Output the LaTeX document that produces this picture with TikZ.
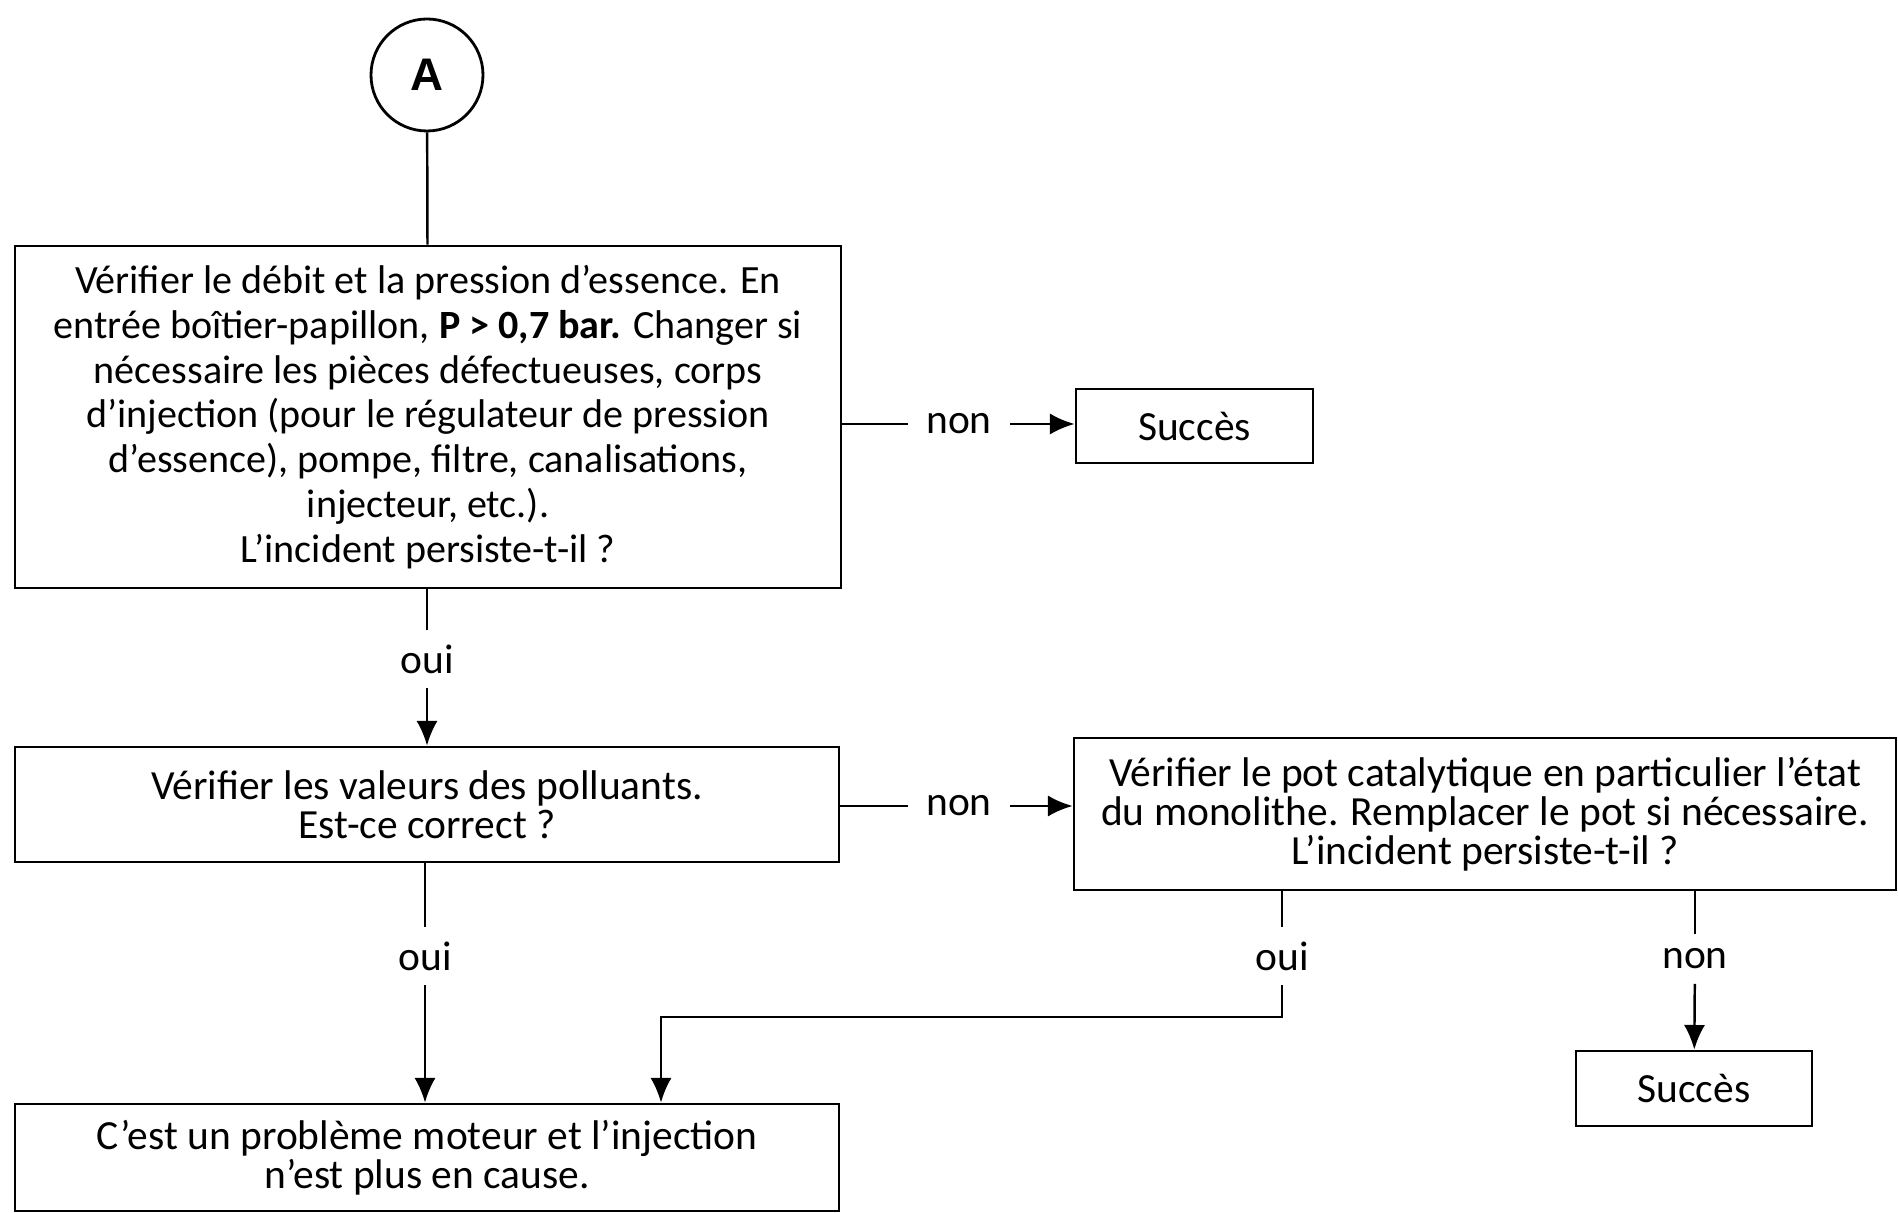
\documentclass[tikz,border=0pt]{standalone}
\usepackage{fontspec}
\setmainfont{Carlito}
\newfontfamily\circfont{Liberation Sans}
\usetikzlibrary{arrows.meta}

\begin{document}
\begin{tikzpicture}
    \tikzset{%
      box/.style={draw, line width=0.8pt, align=center, inner sep=0pt,
        font=\fontsize{11.8}{11.1}\selectfont},
      circ/.style={circle, draw, line width=0.8pt, minimum size=1.12cm,
        inner sep=0pt, font=\circfont\bfseries\fontsize{13}{13}\selectfont},
      lbl/.style={fill=white, inner xsep=5pt, inner ysep=4pt,
        font=\fontsize{11.8}{11.1}\selectfont},
      link/.style={line width=0.7pt},
      arr/.style={line width=0.7pt, -{Latex[length=7pt,width=6pt]}},
    }
    \useasboundingbox (0,0) rectangle (18.98,-12.13);

    \node[circ] (A) at (4.27,-0.75) {A};

    % fuel flow and pressure
    \node[box, minimum width=8.26cm, minimum height=3.42cm,
      font=\fontsize{11.4}{12.75}\selectfont] (fuel) at (4.28,-4.17)
      {V\'erifier le d\'ebit et la pression d’essence. En\\
       entr\'ee bo\^itier-papillon, {\bfseries P > 0,7 bar.} Changer si\\
       n\'ecessaire les pi\`eces d\'efectueuses, corps\\
       d’injection (pour le r\'egulateur de pression\\
       d’essence), pompe, filtre, canalisations,\\
       injecteur, etc.).\\
       L’incident persiste-t-il ?};
    \draw[link] (A) -- (fuel);

    \node[box, minimum width=2.37cm, minimum height=0.74cm] (ok1)
      at (11.945,-4.26) {Succ\`es};
    \node[lbl] (non1) at (9.59,-4.24) {non};
    \draw[link] (fuel.east |- non1) -- (non1);
    \draw[arr] (non1) -- (ok1.west |- non1);

    % pollutants
    \node[lbl] (oui1) at (4.27,-6.59) {oui};
    \node[box, minimum width=8.24cm, minimum height=1.15cm] (poll)
      at (4.27,-8.045)
      {V\'erifier les valeurs des polluants.\\ Est-ce correct ?};
    \draw[link] (fuel.south -| oui1) -- (oui1);
    \draw[arr] (oui1) -- (poll.north -| oui1);

    % catalytic converter
    \node[box, minimum width=8.22cm, minimum height=1.52cm] (cat)
      at (14.85,-8.14)
      {V\'erifier le pot catalytique en particulier l’\'etat\\
       du monolithe. Remplacer le pot si n\'ecessaire.\\
       L’incident persiste-t-il ?};
    \node[lbl] (non2) at (9.59,-8.06) {non};
    \draw[link] (poll.east |- non2) -- (non2);
    \draw[arr] (non2) -- (cat.west |- non2);

    % engine problem
    \node[box, minimum width=8.24cm, minimum height=1.07cm] (engine)
      at (4.27,-11.575)
      {C’est un probl\`eme moteur et l’injection\\ n’est plus en cause.};
    \node[lbl] (oui2) at (4.25,-9.56) {oui};
    \draw[link] (poll.south -| oui2) -- (oui2);
    \draw[arr] (oui2) -- (engine.north -| oui2);

    \node[lbl] (oui3) at (12.82,-9.56) {oui};
    \coordinate (bend) at (12.82,-10.17);
    \coordinate (drop) at (6.61,-10.17);
    \draw[link] (cat.south -| oui3) -- (oui3);
    \draw[arr] (oui3) -- (bend) -- (drop) -- (drop |- engine.north);

    \node[box, minimum width=2.36cm, minimum height=0.75cm] (ok2)
      at (16.94,-10.885) {Succ\`es};
    \node[lbl] (non3) at (16.95,-9.59) {non};
    \draw[link] (cat.south -| non3) -- (non3);
    \draw[arr] (non3) -- (ok2);
  \end{tikzpicture}
\end{document}
